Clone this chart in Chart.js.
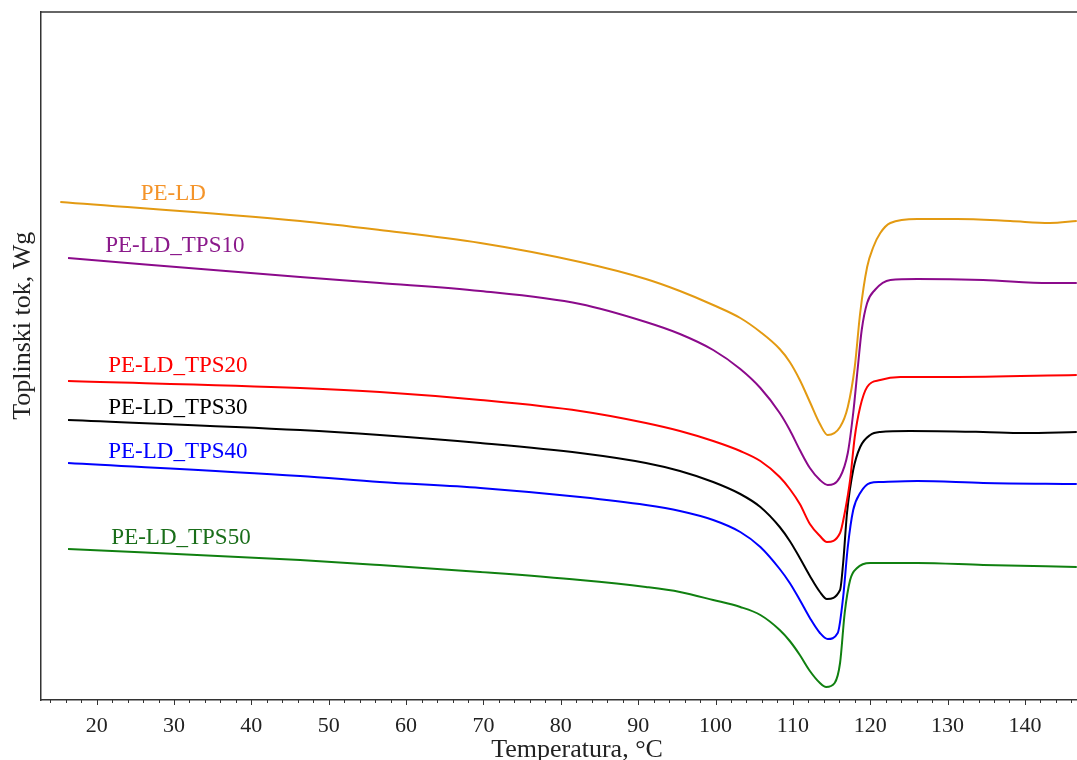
<!DOCTYPE html>
<html>
<head>
<meta charset="utf-8">
<script src="https://cdn.jsdelivr.net/npm/chart.js@4/dist/chart.umd.min.js"></script>
<style>
  html, body { margin: 0; padding: 0; background: #fff; }
  #box { width: 1077px; height: 760px; position: relative; }
</style>
</head>
<body>
<div id="box"><canvas id="dsc"></canvas></div>
<script>
// DSC krivulje - temperatura (°C) i toplinski tok (proizvoljne jedinice, pomaknute krivulje)
const tempPE = [15.3, 46.3, 56.6, 69.6, 82.5, 91.0, 95.4, 99.7, 103.2, 105.8, 108.3, 109.6, 110.9, 112.2, 113.5, 114.5, 116.1, 117.1, 118.0, 118.7, 119.6, 120.4, 121.3, 122.6, 126.1, 131.2, 138.1, 143.2, 146.7]
const flowPE = [4.98, 4.79, 4.70, 4.57, 4.38, 4.21, 4.09, 3.95, 3.82, 3.68, 3.51, 3.38, 3.20, 2.98, 2.76, 2.65, 2.73, 2.93, 3.33, 3.87, 4.33, 4.53, 4.67, 4.77, 4.81, 4.81, 4.79, 4.77, 4.79]

const temp10 = [16.3, 46.3, 56.6, 69.6, 82.5, 91.0, 95.4, 99.7, 103.2, 105.8, 108.3, 109.6, 110.9, 112.2, 113.5, 114.5, 116.1, 117.1, 117.8, 118.4, 118.9, 119.6, 120.6, 122.6, 126.1, 134.6, 143.2, 146.7]
const flow10 = [4.42, 4.23, 4.17, 4.09, 3.96, 3.78, 3.66, 3.50, 3.31, 3.12, 2.87, 2.70, 2.50, 2.32, 2.20, 2.15, 2.23, 2.47, 2.87, 3.33, 3.70, 3.97, 4.10, 4.20, 4.21, 4.20, 4.17, 4.17]

const temp20 = [16.3, 46.3, 56.6, 69.6, 82.5, 91.0, 95.4, 99.7, 103.2, 105.8, 108.3, 109.6, 110.9, 112.2, 113.5, 114.4, 116.1, 116.7, 117.4, 118.0, 118.7, 119.6, 121.3, 123.9, 130.3, 146.7]
const flow20 = [3.19, 3.12, 3.08, 3.00, 2.89, 2.77, 2.69, 2.59, 2.49, 2.39, 2.23, 2.11, 1.96, 1.76, 1.64, 1.58, 1.67, 1.87, 2.20, 2.63, 2.93, 3.13, 3.20, 3.23, 3.23, 3.25]

const temp30 = [16.3, 46.3, 56.6, 69.6, 82.5, 91.0, 95.4, 99.7, 103.2, 105.8, 108.3, 109.6, 110.9, 112.2, 113.5, 114.4, 116.1, 116.5, 117.0, 117.8, 118.7, 120.0, 121.3, 125.1, 134.6, 139.8, 146.7]
const flow30 = [2.80, 2.70, 2.65, 2.57, 2.47, 2.37, 2.29, 2.18, 2.06, 1.93, 1.73, 1.59, 1.42, 1.24, 1.08, 1.01, 1.10, 1.37, 1.87, 2.30, 2.53, 2.65, 2.68, 2.69, 2.68, 2.67, 2.68]

const temp40 = [16.3, 46.3, 56.6, 69.6, 82.5, 91.0, 95.4, 99.7, 103.2, 105.8, 108.3, 109.6, 110.9, 112.2, 113.5, 114.5, 115.8, 116.5, 117.1, 117.8, 118.7, 120.0, 121.3, 126.1, 134.6, 146.7]
const flow40 = [2.37, 2.24, 2.18, 2.12, 2.03, 1.95, 1.89, 1.80, 1.68, 1.53, 1.31, 1.17, 1.00, 0.82, 0.67, 0.61, 0.67, 1.03, 1.53, 1.90, 2.07, 2.17, 2.18, 2.19, 2.17, 2.16]

const temp50 = [16.3, 46.3, 56.6, 69.6, 82.5, 91.0, 95.4, 99.7, 103.2, 105.8, 108.3, 109.6, 110.9, 112.2, 113.5, 114.3, 115.4, 116.1, 116.7, 117.4, 118.3, 120.0, 121.3, 126.1, 134.6, 146.7]
const flow50 = [1.51, 1.40, 1.35, 1.28, 1.20, 1.13, 1.08, 1.00, 0.93, 0.85, 0.70, 0.59, 0.45, 0.29, 0.17, 0.13, 0.17, 0.37, 0.87, 1.20, 1.32, 1.37, 1.37, 1.37, 1.35, 1.33]

const names = ['PE-LD', 'PE-LD_TPS10', 'PE-LD_TPS20', 'PE-LD_TPS30', 'PE-LD_TPS40', 'PE-LD_TPS50']
const lineColors = ['#e39a12', '#8b0a8b', '#ff0000', '#000000', '#0000ff', '#108010']
const textColors = ['#f4942a', '#8b1a8b', '#ff0000', '#000000', '#0000ff', '#1a6e1a']
// polozaj natpisa (temperatura, tok)
const labelTemp = [29.9, 30.1, 30.5, 30.5, 30.5, 30.9]
const labelFlow = [5.06, 4.54, 3.34, 2.92, 2.48, 1.62]

const xTicks = [20, 30, 40, 50, 60, 70, 80, 90, 100, 110, 120, 130, 140]
const xMin = 12.74
const xMax = 146.73

function pairs(t, v){
	return t.map((x, i) => ({x: x, y: v[i]}))
}

const allTemps = [tempPE, temp10, temp20, temp30, temp40, temp50]
const allFlows = [flowPE, flow10, flow20, flow30, flow40, flow50]

var datasets = []
for (let i = 0; i < names.length; i++){
	datasets.push({
		label: names[i],
		data: pairs(allTemps[i], allFlows[i]),
		borderColor: lineColors[i],
		borderWidth: 2,
		pointRadius: 0,
		fill: false,
		cubicInterpolationMode: 'monotone'
	})
}

const serif = '"Liberation Serif", "DejaVu Serif", serif'

const extras = {
	id: 'extras',
	afterDatasetsDraw(chart){
		const ctx = chart.ctx
		const xs = chart.scales.x
		const ys = chart.scales.y
		const area = chart.chartArea
		ctx.save()
		// gornji rub
		ctx.strokeStyle = '#333'
		ctx.lineWidth = 1.5
		ctx.beginPath()
		ctx.moveTo(area.left, area.top)
		ctx.lineTo(chart.width, area.top)
		ctx.stroke()
		// crtice na x osi
		ctx.lineWidth = 1
		for (let t = 14; t <= 146; t += 2){
			let px = Math.round(xs.getPixelForValue(t)) + 0.5
			let len = (t % 10 === 0) ? 5 : 3
			ctx.beginPath()
			ctx.moveTo(px, area.bottom)
			ctx.lineTo(px, area.bottom + len)
			ctx.stroke()
		}
		// natpisi krivulja
		ctx.font = '23px ' + serif
		ctx.textAlign = 'center'
		ctx.textBaseline = 'middle'
		for (let i = 0; i < names.length; i++){
			ctx.fillStyle = textColors[i]
			ctx.fillText(names[i], xs.getPixelForValue(labelTemp[i]), ys.getPixelForValue(labelFlow[i]))
		}
		// naslovi osi
		ctx.fillStyle = '#222'
		ctx.font = '26px ' + serif
		ctx.textBaseline = 'alphabetic'
		ctx.fillText('Temperatura, °C', 577, 757)
		ctx.textBaseline = 'middle'
		ctx.translate(23, area.top + (area.bottom - area.top) * 0.456)
		ctx.rotate(-Math.PI / 2)
		ctx.fillText('Toplinski tok, Wg', 0, 0)
		ctx.restore()
	}
}

new Chart(document.getElementById('dsc'), {
	type: 'line',
	data: { datasets: datasets },
	options: {
		responsive: true,
		maintainAspectRatio: false,
		animation: false,
		layout: { padding: { top: 12, right: 0, left: 0, bottom: 0 } },
		plugins: {
			legend: { display: false },
			tooltip: { enabled: false }
		},
		scales: {
			x: {
				type: 'linear',
				min: xMin,
				max: xMax,
				afterBuildTicks: (scale) => { scale.ticks = xTicks.map(v => ({value: v})) },
				afterFit: (scale) => { scale.height = 60 },
				grid: { display: false, drawTicks: false },
				border: { display: true, color: '#333', width: 1.5 },
				ticks: {
					color: '#222',
					padding: 13,
					maxRotation: 0,
					autoSkip: false,
					font: { family: serif, size: 22 }
				}
			},
			y: {
				min: 0,
				max: 6.88,
				afterFit: (scale) => { scale.width = 40.5 },
				grid: { display: false, drawTicks: false },
				border: { display: true, color: '#333', width: 1.5 },
				ticks: { display: false }
			}
		}
	},
	plugins: [extras]
})
</script>
</body>
</html>
